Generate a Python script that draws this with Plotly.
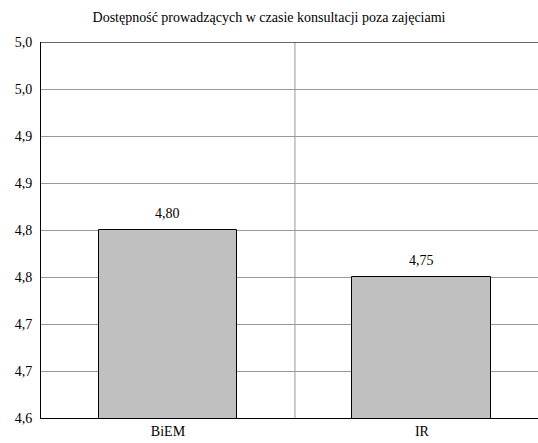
import plotly.graph_objects as go

categories = ["BiEM", "IR"]
values = [4.80, 4.75]
value_labels = ["4,80", "4,75"]
tick_vals = [4.60, 4.65, 4.70, 4.75, 4.80, 4.85, 4.90, 4.95, 5.00]
tick_text = ["4,6", "4,7", "4,7", "4,8", "4,8", "4,9", "4,9", "5,0", "5,0"]
title = "Dostępność prowadzących w czasie konsultacji poza zajęciami"

font = "'Liberation Serif', 'Times New Roman', serif"

fig = go.Figure()
fig.add_trace(go.Bar(
    x=list(range(len(categories))), y=values,
    width=0.547,
    marker=dict(color="#C0C0C0", line=dict(color="black", width=1)),
    hoverinfo="skip",
))

for i, (v, lab) in enumerate(zip(values, value_labels)):
    fig.add_annotation(x=i, y=v, text=lab, showarrow=False, xref="x", yref="y",
                       yanchor="bottom", yshift=7,
                       font=dict(family=font, size=14, color="black"))

fig.add_shape(type="line", xref="x", yref="paper", x0=0.5, x1=0.5, y0=0, y1=1,
              line=dict(color="#999999", width=1), layer="below")

fig.update_layout(
    width=538, height=443,
    margin=dict(l=41, r=0, t=42, b=25),
    paper_bgcolor="white", plot_bgcolor="white",
    showlegend=False,
    font=dict(family=font, size=14, color="black"),
    title=dict(text=title, x=0.5, xanchor="center", y=0.962, yanchor="middle",
               font=dict(family=font, size=14, color="black")),
    bargap=0,
    xaxis=dict(range=[-0.5, 1.457], tickvals=[0, 1], ticktext=categories,
               showgrid=False, zeroline=False, showline=True, linecolor="black",
               linewidth=1, ticks="", tickfont=dict(family=font, size=14)),
    yaxis=dict(range=[4.6, 5.0], tickvals=tick_vals, ticktext=tick_text,
               showgrid=True, gridcolor="#999999", gridwidth=1, zeroline=False,
               showline=True, linecolor="black", linewidth=1, mirror=False,
               ticks="outside", ticklen=5, tickcolor="rgba(0,0,0,0)",
               tickfont=dict(family=font, size=14)),
)
fig.add_shape(type="line", xref="paper", yref="y", x0=0, x1=1, y0=5.0, y1=5.0,
              line=dict(color="#333333", width=1.5))

fig.write_html("out.html", config={"displayModeBar": False},
               post_script="document.body.style.margin='0';document.body.style.overflow='hidden';")
